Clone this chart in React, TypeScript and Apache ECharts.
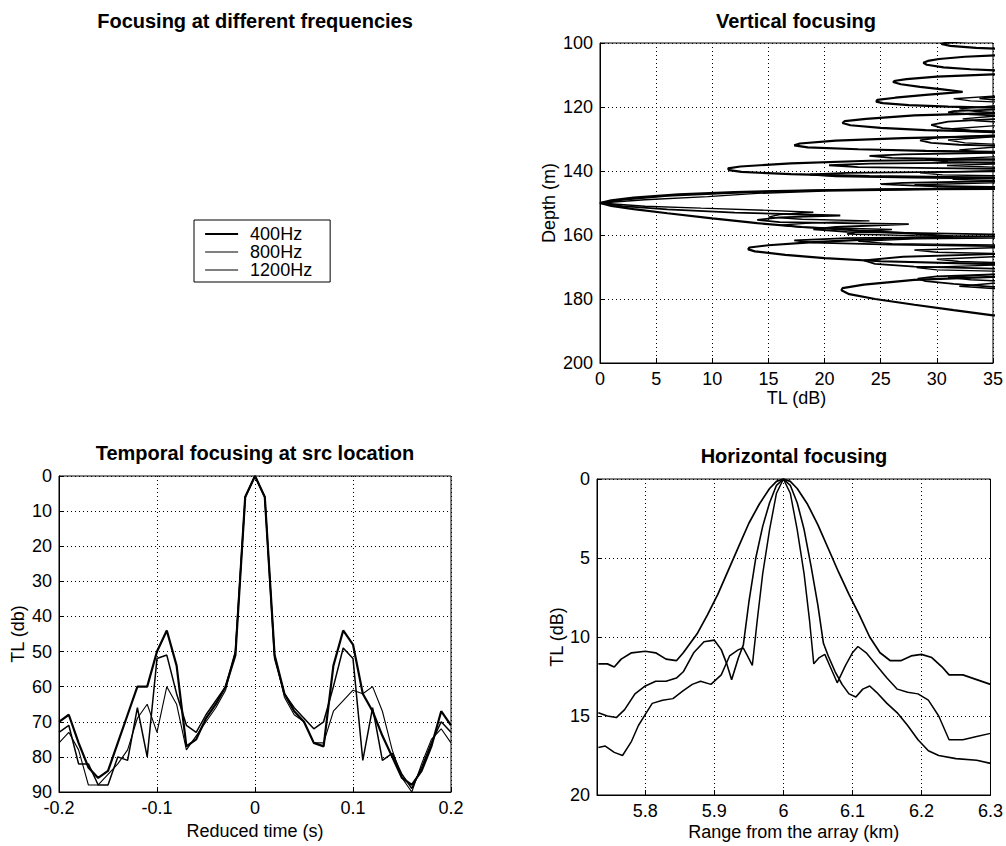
import React, { useEffect, useRef } from "react";
import * as echarts from "echarts";

const FONT = '"Liberation Sans", Arial, Helvetica, sans-serif';

// legend / series names
const FREQS = ["400Hz", "800Hz", "1200Hz"];

// ---------- Temporal focusing at src location ----------
const reducedTime = [
  -0.2, -0.19, -0.18, -0.17, -0.16, -0.15, -0.14, -0.13, -0.12, -0.11,
  -0.1, -0.09, -0.08, -0.07, -0.06, -0.05, -0.04, -0.03, -0.02, -0.01,
  0,
  0.01, 0.02, 0.03, 0.04, 0.05, 0.06, 0.07, 0.08, 0.09, 0.1,
  0.11, 0.12, 0.13, 0.14, 0.15, 0.16, 0.17, 0.18, 0.19, 0.2,
];
const temporal400 = [
  70, 68, 76, 83, 86, 84, 76, 68, 60, 60,
  50, 44, 54, 77, 75, 69, 65, 60, 51, 6,
  0,
  6, 51, 62, 67, 70, 76, 77, 54, 44, 48,
  62, 67, 74, 80, 86, 88, 84, 77, 67, 71,
];
const temporal800 = [
  73, 71, 82, 82, 88, 88, 80, 81, 66, 80,
  52, 51, 62, 71, 73, 68, 64, 60, 50, 6,
  0,
  6, 52, 62, 66, 69, 72, 70, 60, 49, 52,
  81, 66, 81, 79, 85, 89, 83, 76, 70, 73,
];
const temporal1200 = [
  76, 73, 78, 88, 88, 85, 82, 78, 69, 65,
  73, 60, 65, 78, 74, 70, 66, 61, 50, 6,
  0,
  6, 51, 63, 68, 70, 76, 76, 67, 64, 61,
  62, 60, 67, 78, 86, 90, 82, 75, 72, 76,
];

// ---------- Horizontal focusing: [range km, TL dB] ----------
const horiz400 = [
  [5.732, 11.7], [5.745, 11.7], [5.755, 11.9], [5.765, 11.4], [5.78, 11.0], [5.8, 10.9],
  [5.815, 11.0], [5.83, 11.4], [5.845, 11.5], [5.855, 11.0], [5.865, 10.4], [5.875, 9.8],
  [5.89, 8.6], [5.905, 7.3], [5.92, 5.8], [5.935, 4.3], [5.95, 2.8], [5.965, 1.6],
  [5.98, 0.6], [5.99, 0.15], [6.0, 0], [6.01, 0.15], [6.02, 0.6], [6.035, 1.6],
  [6.05, 2.9], [6.065, 4.4], [6.08, 5.9], [6.095, 7.3], [6.11, 8.6], [6.125, 10.0],
  [6.14, 11.0], [6.155, 11.5], [6.17, 11.5], [6.185, 11.2], [6.2, 11.1], [6.215, 11.3],
  [6.23, 11.9], [6.24, 12.4], [6.26, 12.4], [6.28, 12.7], [6.3, 13.0],
];
const horiz800 = [
  [5.732, 14.8], [5.745, 15.0], [5.758, 15.1], [5.77, 14.6], [5.785, 13.6], [5.8, 13.1],
  [5.815, 12.8], [5.83, 12.8], [5.845, 12.6], [5.855, 12.2], [5.87, 11.0], [5.885, 10.3],
  [5.9, 10.2], [5.91, 10.8], [5.918, 11.7], [5.925, 12.7], [5.935, 11.3], [5.942, 10.5],
  [5.95, 7.8], [5.96, 5.0], [5.97, 3.0], [5.98, 1.5], [5.99, 0.4], [6.0, 0],
  [6.01, 0.4], [6.02, 1.5], [6.03, 3.2], [6.04, 5.5], [6.05, 8.0], [6.058, 10.4],
  [6.065, 11.2], [6.075, 12.2], [6.085, 13.0], [6.095, 13.6], [6.105, 13.8], [6.115, 13.3],
  [6.125, 13.1], [6.135, 13.5], [6.15, 14.2], [6.165, 14.8], [6.18, 15.6], [6.195, 16.5],
  [6.21, 17.2], [6.225, 17.5], [6.25, 17.7], [6.28, 17.8], [6.3, 18.0],
];
const horiz1200 = [
  [5.732, 17.0], [5.742, 16.9], [5.755, 17.3], [5.767, 17.5], [5.78, 16.6], [5.79, 15.6],
  [5.8, 14.9], [5.81, 14.2], [5.825, 14.0], [5.84, 13.9], [5.855, 13.4], [5.868, 13.0],
  [5.88, 12.8], [5.895, 13.0], [5.91, 12.4], [5.922, 11.2], [5.935, 10.8], [5.942, 10.7],
  [5.948, 11.2], [5.955, 11.8], [5.962, 9.0], [5.97, 6.0], [5.98, 3.2], [5.99, 0.9],
  [6.0, 0], [6.01, 0.9], [6.02, 3.2], [6.03, 6.0], [6.038, 9.0], [6.044, 11.7],
  [6.052, 11.3], [6.06, 11.1], [6.068, 11.9], [6.078, 12.9], [6.09, 11.8], [6.1, 11.0],
  [6.108, 10.6], [6.12, 11.0], [6.135, 11.8], [6.15, 12.6], [6.165, 13.3], [6.18, 13.5],
  [6.195, 13.6], [6.21, 14.0], [6.225, 15.0], [6.24, 16.5], [6.26, 16.5], [6.28, 16.3],
  [6.3, 16.1],
];

// ---------- Vertical focusing: [TL dB, depth m] ----------
const vert400 = [
  [33, 99.3], [31, 99.8], [30.4, 100.3], [31.2, 100.9], [33.5, 101.5], [36, 101.9], [45, 102.5],
  [45, 103.4], [36, 103.7], [32.5, 104.3], [30.2, 105], [29.2, 105.6], [28.8, 106.2], [29.1, 106.8],
  [30.6, 107.6], [33, 108.2], [36, 108.7], [45, 109.1],
  [45, 109.4], [35, 109.8], [30, 110.5], [27.3, 111.3], [26.3, 111.8], [26.1, 112.2], [26.8, 112.9], [28.5, 113.7],
  [30.5, 114.5], [32.3, 115.3], [29, 116.2], [26.3, 117.1], [24.7, 117.8], [24.6, 118.3], [25.2, 118.8],
  [27.5, 119.4], [31, 119.9], [35, 120.2], [45, 120.6],
  [45, 121.5], [35, 121.9], [28, 122.6], [23.7, 123.7], [21.8, 124.4], [21.6, 125], [22.3, 125.7], [25, 126.5],
  [29, 127.2], [35, 127.7], [45, 128],
  [45, 128.7], [35, 129.1], [27, 129.7], [21, 130.5], [17.8, 131.4], [17.3, 132], [18.5, 132.6],
  [23, 133.2], [29, 133.7], [35, 134], [45, 134.3],
  [45, 136], [35, 136.4], [24, 136.8], [17, 137.6], [12.5, 138.6], [11.4, 139.2], [11.5, 139.7], [12.6, 140.3],
  [17, 141], [24, 141.6], [35, 142.1], [45, 142.5],
  [45, 145.1], [35, 145.4], [25, 145.7], [18, 146.1], [12, 146.6], [7, 147.3], [3, 148.3],
  [1, 149.2], [0, 150], [1, 150.9], [3, 151.9], [6, 153.2], [10, 154.8], [14, 156.3],
  [18, 157.5], [23, 158.6], [28, 159.6], [31.4, 160.5],
  [25, 161.2], [19, 162.2], [15, 163.2], [13.3, 163.9], [13.2, 164.5], [13.8, 165.1], [16.5, 166.2],
  [20, 167.2], [25, 168.2], [35, 169.1], [45, 169.5],
  [45, 172.6], [35, 173.1], [28, 174], [23.5, 175.5], [21.6, 176.6], [21.5, 177.3], [22.2, 178.5], [24.5, 180],
  [28, 181.8], [31.5, 183.5], [35, 185.1], [45, 186.2],
];
const vert800 = [
  [45, 116.5], [35, 116.9], [33.8, 117.3], [35, 117.7], [45, 118],
  [45, 120.5], [35, 120.8], [31.5, 121.3], [31, 121.7], [33, 122.3], [35, 122.6], [45, 123],
  [45, 123.3], [35, 123.8], [31, 124.6], [29.5, 125.6], [30.5, 126.6], [33, 127.3], [35, 127.6], [45, 128],
  [45, 128.6], [35, 128.9], [30, 129.6], [28.5, 130.4], [29.5, 131.2], [32, 131.8], [35, 132.1], [45, 132.3],
  [45, 134], [35, 134.3], [27, 134.8], [24, 135.3], [26, 135.9], [31, 136.2], [35, 136.4], [45, 136.6],
  [45, 137], [35, 137.3], [24, 137.7], [20.4, 138.2], [23, 138.8], [30, 139.1], [35, 139.3], [45, 139.5],
  [45, 139.8], [35, 140.1], [22, 140.6], [18.7, 141.1], [21, 141.7], [28, 142.1], [35, 142.4], [45, 142.6],
  [45, 142.9], [35, 143.2], [27, 143.7], [25, 144.1], [28, 144.6], [35, 145], [45, 145.2],
  [30, 145.6], [20, 146], [12, 146.8], [6, 147.8], [2, 149], [0, 150], [2, 151], [6, 152],
  [12, 153], [18, 153.6], [21.4, 153.9], [16, 154.5], [14, 155.3], [16, 156], [27.5, 156.6],
  [21, 157.5], [19, 158.2], [22, 159], [35, 159.8], [45, 160.1],
  [35, 160.5], [22, 161], [17.3, 161.7], [19, 162.4], [26, 163], [35, 163.5], [45, 163.8],
  [45, 165.6], [35, 166], [27, 166.8], [23.5, 167.9], [24.5, 169], [28, 169.9], [35, 170.5], [45, 170.8],
  [45, 171.8], [35, 172.3], [30, 172.9], [28.3, 173.6], [29, 174.4], [31.5, 175.3], [35, 176.2], [45, 176.8],
];
const vert1200 = [
  [45, 116.2], [35, 116.6], [31.5, 117.4], [33, 118.1], [35, 118.4], [45, 118.7],
  [45, 119.3], [35, 119.7], [32, 120.6], [33.5, 121.4], [35, 121.7], [45, 121.9],
  [45, 122.6], [35, 122.9], [32.3, 123.7], [33.5, 124.3], [35, 124.6], [45, 124.8],
  [45, 125.6], [35, 125.9], [31.4, 126.8], [32.5, 127.6], [35, 128], [45, 128.2],
  [45, 129], [35, 129.3], [31, 130.3], [32.5, 131.2], [35, 131.6], [45, 131.8],
  [45, 132.4], [35, 132.6], [32, 133.4], [33.5, 134], [35, 134.3], [45, 134.5],
  [45, 135.3], [35, 135.6], [29, 136.5], [31, 137.1], [35, 137.4], [45, 137.6],
  [35, 137.8], [30.9, 138.3], [35, 138.8], [45, 139.1],
  [45, 139.7], [35, 139.9], [28.5, 140.6], [30.5, 141.2], [35, 141.5], [45, 141.7],
  [35, 142.1], [31.4, 142.6], [35, 143], [45, 143.3],
  [35, 143.7], [28, 144.3], [30, 144.9], [35, 145.2], [45, 145.5],
  [30, 145.8], [20, 146.3], [14, 147], [9.6, 148], [4, 149], [0, 150], [4, 151], [9, 151.6],
  [15, 152.3], [19, 152.9], [16, 153.6], [15, 154.4], [18, 155.1], [24, 155.6], [19, 156.2],
  [16, 156.9], [18, 157.6], [26, 158.3], [23, 159], [22, 159.7], [28, 160.2], [45, 160.6],
  [28, 161.2], [23, 162], [26, 162.7], [35, 163.1], [45, 163.4],
  [35, 164], [28, 164.7], [30, 165.4], [35, 165.8], [45, 166],
  [35, 166.8], [30, 167.6], [32, 168.3], [35, 168.6], [45, 168.8],
  [35, 169.4], [28.2, 170.2], [30, 170.9], [35, 171.3], [45, 171.6],
  [35, 172.3], [31, 173.2], [33, 174], [35, 174.3], [45, 174.5],
  [35, 175.1], [32, 176], [35, 176.7], [45, 177],
];

const BLACK = "#000";

function axisBase(extra: any) {
  return {
    type: "value",
    nameLocation: "middle",
    nameTextStyle: { color: BLACK, fontSize: 18, fontFamily: FONT },
    axisLine: { show: true, onZero: false, lineStyle: { color: BLACK, width: 1 } },
    axisTick: { show: true, inside: true, length: 5, lineStyle: { color: BLACK } },
    axisLabel: { color: BLACK, fontSize: 18, fontFamily: FONT, margin: 7 },
    splitLine: { show: true, lineStyle: { color: BLACK, type: [1, 3], width: 1 } },
    ...extra,
  };
}

function lineSeries(name: string, width: number, axisIdx: number, data: any[]) {
  return {
    type: "line",
    name,
    xAxisIndex: axisIdx,
    yAxisIndex: axisIdx,
    data,
    symbol: "none",
    showSymbol: false,
    clip: true,
    lineStyle: { color: BLACK, width },
    itemStyle: { color: BLACK },
    emphasis: { disabled: true },
  };
}

export default function App() {
  const ref = useRef<HTMLDivElement>(null);
  useEffect(() => {
    if (!ref.current) return;
    const chart = echarts.init(ref.current, null, { renderer: "svg" });
    const temporalSets = [temporal400, temporal800, temporal1200];
    const horizSets = [horiz400, horiz800, horiz1200];
    const vertSets = [vert400, vert800, vert1200];
    const vertW = [2.2, 1.8, 1.4];
    const tempW = [2.2, 1.5, 1.1];
    const horizW = [1.7, 1.6, 1.5];
    const legendW = [2.2, 1, 1];
    const titleStyle = { color: BLACK, fontSize: 20, fontWeight: "bold", fontFamily: FONT };
    const option: any = {
      animation: false,
      backgroundColor: "#fff",
      title: [
        { text: "Focusing at different frequencies", left: 255, top: 11, textAlign: "center", padding: 0, textStyle: titleStyle },
        { text: "Vertical focusing", left: 796, top: 11, textAlign: "center", padding: 0, textStyle: titleStyle },
        { text: "Temporal focusing at src location", left: 255, top: 443, textAlign: "center", padding: 0, textStyle: titleStyle },
        { text: "Horizontal focusing", left: 794, top: 446, textAlign: "center", padding: 0, textStyle: titleStyle },
      ],
      legend: {
        data: FREQS.map((name, i) => ({ name, lineStyle: { width: legendW[i], color: BLACK } })),
        orient: "vertical",
        left: 194,
        top: 220,
        padding: [5, 18, 3, 10],
        itemGap: 0,
        itemWidth: 33,
        itemHeight: 20,
        borderColor: BLACK,
        borderWidth: 1,
        selectedMode: false,
        itemStyle: { opacity: 0 },
        textStyle: { color: BLACK, fontSize: 18, fontFamily: FONT, padding: [0, 0, 0, 7] },
      },
      grid: [
        { left: 600, top: 43, width: 393, height: 320, show: true, borderColor: BLACK, borderWidth: 1, backgroundColor: "transparent" },
        { left: 59, top: 476, width: 392, height: 316, show: true, borderColor: BLACK, borderWidth: 1, backgroundColor: "transparent" },
        { left: 597, top: 479, width: 394, height: 316, show: true, borderColor: BLACK, borderWidth: 1, backgroundColor: "transparent" },
      ],
      xAxis: [
        axisBase({ gridIndex: 0, min: 0, max: 35, interval: 5, name: "TL (dB)", nameGap: 24 }),
        axisBase({ gridIndex: 1, min: -0.2, max: 0.2, interval: 0.1, name: "Reduced time (s)", nameGap: 30 }),
        axisBase({
          gridIndex: 2, min: 5.73, max: 6.3, splitNumber: 5, name: "Range from the array (km)", nameGap: 28,
          axisLabel: { color: BLACK, fontSize: 18, fontFamily: FONT, margin: 7, showMinLabel: false },
        }),
      ],
      yAxis: [
        axisBase({ gridIndex: 0, min: 100, max: 200, interval: 20, inverse: true, name: "Depth (m)", nameGap: 42 }),
        axisBase({ gridIndex: 1, min: 0, max: 90, interval: 10, inverse: true, name: "TL (db)", nameGap: 32 }),
        axisBase({ gridIndex: 2, min: 0, max: 20, interval: 5, inverse: true, name: "TL (dB)", nameGap: 31 }),
      ],
      series: [
        ...FREQS.map((f, i) => lineSeries(f, vertW[i], 0, vertSets[i])),
        ...FREQS.map((f, i) =>
          lineSeries(f, tempW[i], 1, reducedTime.map((t, k) => [t, temporalSets[i][k]]))
        ),
        ...FREQS.map((f, i) => lineSeries(f, horizW[i], 2, horizSets[i])),
      ],
    };
    chart.setOption(option);
    return () => chart.dispose();
  }, []);
  return (
    <div
      ref={ref}
      style={{ position: "absolute", left: 0, top: 0, width: 1006, height: 846, background: "#fff" }}
    />
  );
}
